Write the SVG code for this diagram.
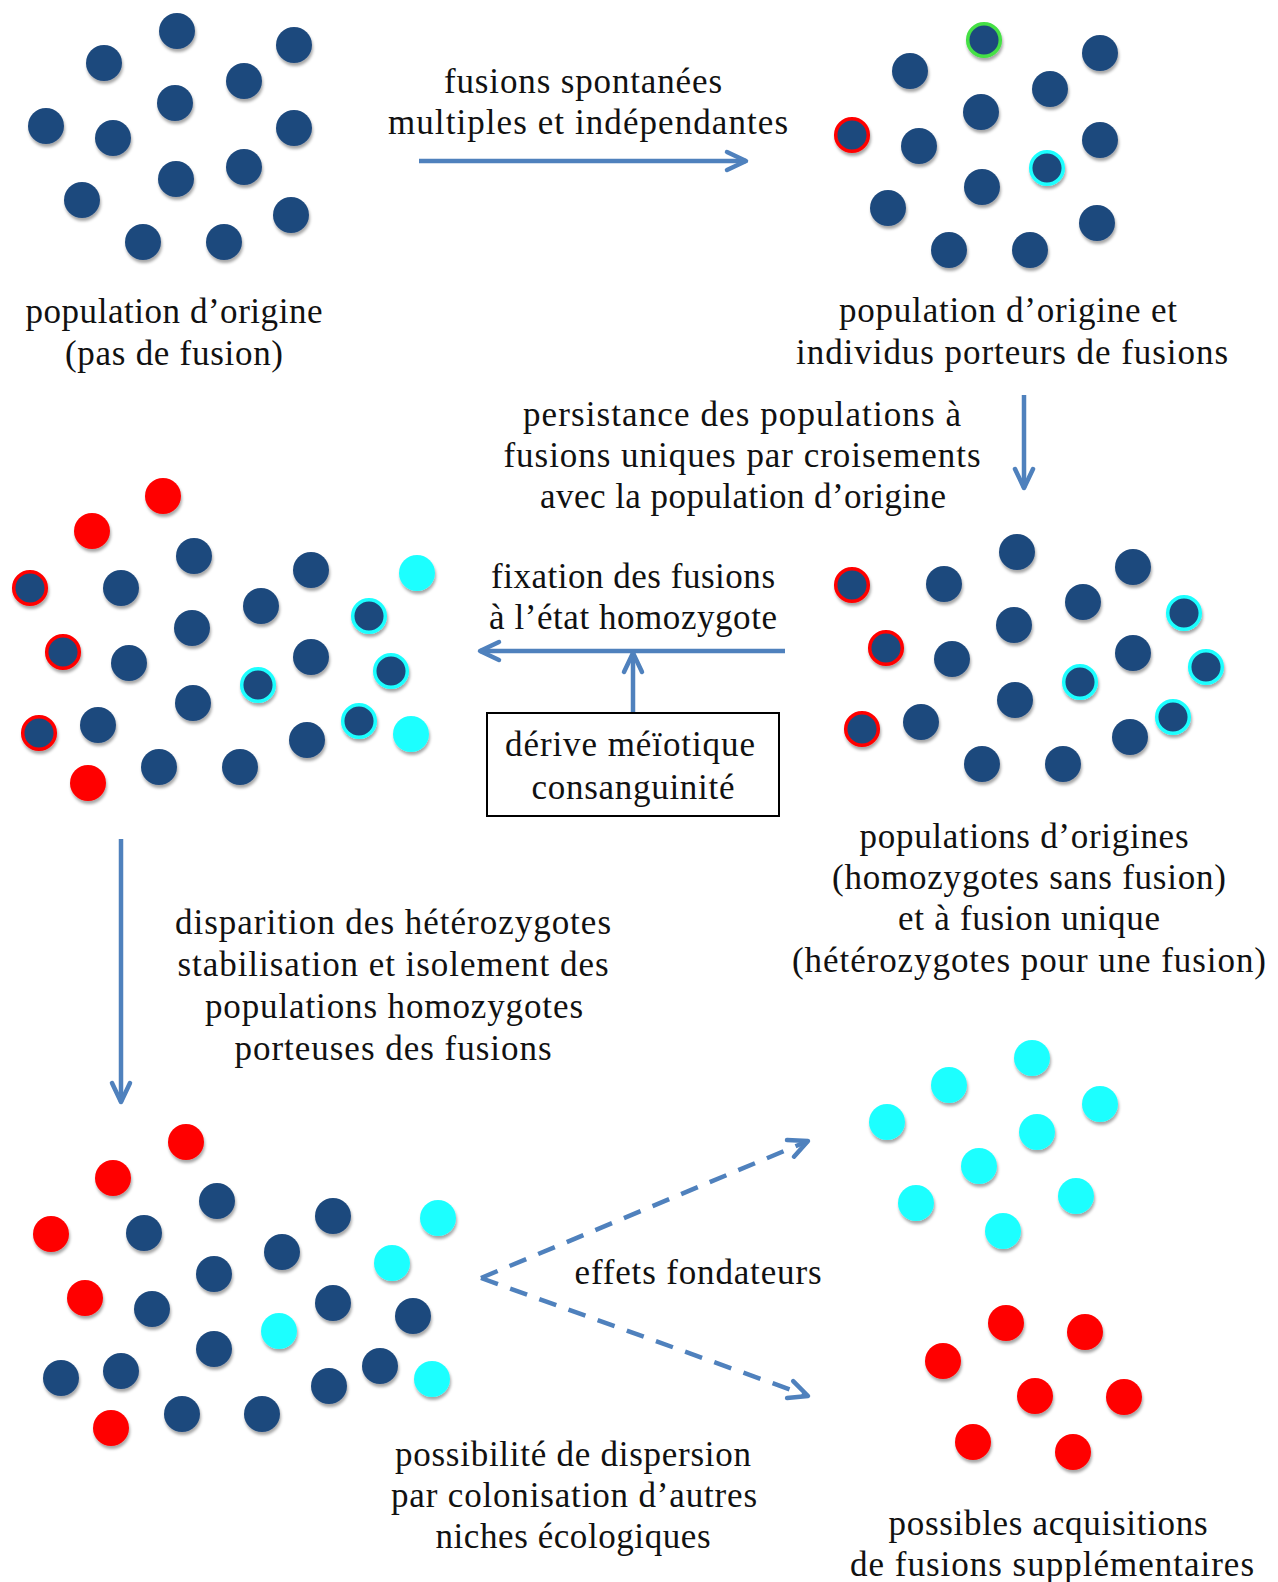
<svg xmlns="http://www.w3.org/2000/svg" width="1278" height="1582" viewBox="0 0 1278 1582">
<defs>
<filter id="sh" x="-30%" y="-30%" width="160%" height="170%">
<feDropShadow dx="1" dy="3" stdDeviation="1.6" flood-color="#000" flood-opacity="0.35"/>
</filter>
<marker id="ah" markerUnits="userSpaceOnUse" markerWidth="26" markerHeight="24" viewBox="0 0 26 24" refX="23" refY="12" orient="auto">
<path d="M4,3 L23,12 L4,21" fill="none" stroke="#4f81bd" stroke-width="4.5" stroke-linecap="round" stroke-linejoin="round"/>
</marker>
</defs>
<style>
text{font-family:"Liberation Serif","Times New Roman",serif;font-size:35px;fill:#111;text-anchor:middle}
circle{filter:url(#sh)}
.d{fill:#1f497d}
.r{fill:#ff0000}
.c{fill:#1fffff}
.ro{fill:#1f497d;stroke:#ff0000;stroke-width:3.5}
.co{fill:#1f497d;stroke:#1fffff;stroke-width:3.5}
.go{fill:#1f497d;stroke:#44e044;stroke-width:3.5}
.ln{fill:none;stroke:#4f81bd;stroke-width:4.5;marker-end:url(#ah)}
.dash{stroke-dasharray:18 13}
</style>
<rect width="1278" height="1582" fill="#fff"/>

<g id="connectors">
<line class="ln" x1="419" y1="161" x2="746" y2="161"/>
<line class="ln" x1="1024" y1="395" x2="1024" y2="488"/>
<line class="ln" x1="785" y1="651" x2="480" y2="651"/>
<line class="ln" x1="633" y1="713" x2="633" y2="653"/>
<line class="ln" x1="121" y1="839" x2="121" y2="1102"/>
<line class="ln dash" x1="481" y1="1278" x2="808" y2="1141"/>
<line class="ln dash" x1="481" y1="1278" x2="808" y2="1396"/>
</g>

<g id="pop-origine">
<circle class="d" cx="177" cy="31" r="18"/>
<circle class="d" cx="104" cy="63" r="18"/>
<circle class="d" cx="294" cy="45" r="18"/>
<circle class="d" cx="244" cy="81" r="18"/>
<circle class="d" cx="175" cy="103" r="18"/>
<circle class="d" cx="46" cy="126" r="18"/>
<circle class="d" cx="113" cy="138" r="18"/>
<circle class="d" cx="294" cy="128" r="18"/>
<circle class="d" cx="176" cy="179" r="18"/>
<circle class="d" cx="244" cy="167" r="18"/>
<circle class="d" cx="82" cy="200" r="18"/>
<circle class="d" cx="291" cy="215" r="18"/>
<circle class="d" cx="143" cy="242" r="18"/>
<circle class="d" cx="224" cy="242" r="18"/>
<text x="174" y="323" textLength="297">population d’origine</text>
<text x="174" y="365" textLength="218">(pas de fusion)</text>
</g>

<g id="label-fusions">
<text x="583" y="93" textLength="278">fusions spontanées</text>
<text x="588" y="134" textLength="400">multiples et indépendantes</text>
</g>

<g id="pop-porteurs">
<circle class="go" cx="984" cy="40" r="16.3"/>
<circle class="d" cx="910" cy="71" r="18"/>
<circle class="d" cx="1100" cy="53" r="18"/>
<circle class="d" cx="1050" cy="89" r="18"/>
<circle class="d" cx="981" cy="112" r="18"/>
<circle class="ro" cx="852" cy="135" r="16.3"/>
<circle class="d" cx="919" cy="146" r="18"/>
<circle class="d" cx="1100" cy="140" r="18"/>
<circle class="co" cx="1047" cy="168" r="16.3"/>
<circle class="d" cx="982" cy="187" r="18"/>
<circle class="d" cx="888" cy="208" r="18"/>
<circle class="d" cx="1097" cy="223" r="18"/>
<circle class="d" cx="949" cy="250" r="18"/>
<circle class="d" cx="1030" cy="250" r="18"/>
<text x="1008" y="322" textLength="338">population d’origine et</text>
<text x="1012" y="364" textLength="432">individus porteurs de fusions</text>
</g>

<g id="label-persistance">
<text x="742" y="426" textLength="438">persistance des populations à</text>
<text x="742" y="467" textLength="477">fusions uniques par croisements</text>
<text x="743" y="508" textLength="406">avec la population d’origine</text>
</g>

<g id="pop-fixees">
<circle class="r" cx="163" cy="496" r="18"/>
<circle class="r" cx="92" cy="531" r="18"/>
<circle class="d" cx="194" cy="556" r="18"/>
<circle class="ro" cx="30" cy="588" r="16.3"/>
<circle class="d" cx="121" cy="588" r="18"/>
<circle class="d" cx="311" cy="570" r="18"/>
<circle class="c" cx="417" cy="573" r="18"/>
<circle class="d" cx="261" cy="606" r="18"/>
<circle class="co" cx="369" cy="616" r="16.3"/>
<circle class="d" cx="192" cy="628" r="18"/>
<circle class="ro" cx="63" cy="652" r="16.3"/>
<circle class="d" cx="129" cy="663" r="18"/>
<circle class="d" cx="311" cy="657" r="18"/>
<circle class="co" cx="391" cy="671" r="16.3"/>
<circle class="co" cx="258" cy="685" r="16.3"/>
<circle class="d" cx="193" cy="703" r="18"/>
<circle class="ro" cx="39" cy="733" r="16.3"/>
<circle class="d" cx="98" cy="725" r="18"/>
<circle class="co" cx="359" cy="721" r="16.3"/>
<circle class="c" cx="411" cy="734" r="18"/>
<circle class="d" cx="307" cy="740" r="18"/>
<circle class="r" cx="88" cy="783" r="18"/>
<circle class="d" cx="159" cy="767" r="18"/>
<circle class="d" cx="240" cy="767" r="18"/>
</g>

<g id="label-fixation">
<text x="633" y="588" textLength="284">fixation des fusions</text>
<text x="633" y="629" textLength="288">à l’état homozygote</text>
</g>

<g id="box-derive">
<rect x="487" y="713" width="292" height="103" fill="#fff" stroke="#000" stroke-width="2"/>
<text x="630" y="756" textLength="250">dérive méïotique</text>
<text x="633" y="799" textLength="203">consanguinité</text>
</g>

<g id="pop-heterozygotes">
<circle class="ro" cx="852" cy="585" r="16.3"/>
<circle class="d" cx="944" cy="584" r="18"/>
<circle class="d" cx="1017" cy="552" r="18"/>
<circle class="d" cx="1133" cy="567" r="18"/>
<circle class="d" cx="1083" cy="602" r="18"/>
<circle class="co" cx="1184" cy="613" r="16.3"/>
<circle class="d" cx="1014" cy="625" r="18"/>
<circle class="ro" cx="886" cy="648" r="16.3"/>
<circle class="d" cx="952" cy="659" r="18"/>
<circle class="d" cx="1133" cy="653" r="18"/>
<circle class="co" cx="1206" cy="667" r="16.3"/>
<circle class="co" cx="1080" cy="682" r="16.3"/>
<circle class="d" cx="1015" cy="700" r="18"/>
<circle class="ro" cx="862" cy="729" r="16.3"/>
<circle class="d" cx="921" cy="722" r="18"/>
<circle class="co" cx="1173" cy="717" r="16.3"/>
<circle class="d" cx="1130" cy="737" r="18"/>
<circle class="d" cx="982" cy="764" r="18"/>
<circle class="d" cx="1063" cy="764" r="18"/>
<text x="1024" y="848" textLength="329">populations d’origines</text>
<text x="1029" y="889" textLength="394">(homozygotes sans fusion)</text>
<text x="1029" y="930" textLength="262">et à fusion unique</text>
<text x="1029" y="972" textLength="474">(hétérozygotes pour une fusion)</text>
</g>

<g id="label-disparition">
<text x="393" y="934" textLength="436">disparition des hétérozygotes</text>
<text x="393" y="976" textLength="431">stabilisation et isolement des</text>
<text x="394" y="1018" textLength="378">populations homozygotes</text>
<text x="393" y="1060" textLength="317">porteuses des fusions</text>
</g>

<g id="pop-stabilisees">
<circle class="r" cx="186" cy="1142" r="18"/>
<circle class="r" cx="113" cy="1178" r="18"/>
<circle class="d" cx="217" cy="1201" r="18"/>
<circle class="r" cx="51" cy="1234" r="18"/>
<circle class="d" cx="144" cy="1233" r="18"/>
<circle class="d" cx="333" cy="1216" r="18"/>
<circle class="c" cx="438" cy="1218" r="18"/>
<circle class="d" cx="282" cy="1252" r="18"/>
<circle class="c" cx="392" cy="1263" r="18"/>
<circle class="d" cx="214" cy="1274" r="18"/>
<circle class="r" cx="85" cy="1298" r="18"/>
<circle class="d" cx="152" cy="1309" r="18"/>
<circle class="d" cx="333" cy="1303" r="18"/>
<circle class="d" cx="413" cy="1316" r="18"/>
<circle class="c" cx="279" cy="1331" r="18"/>
<circle class="d" cx="214" cy="1349" r="18"/>
<circle class="d" cx="61" cy="1378" r="18"/>
<circle class="d" cx="121" cy="1371" r="18"/>
<circle class="d" cx="380" cy="1366" r="18"/>
<circle class="c" cx="432" cy="1379" r="18"/>
<circle class="d" cx="329" cy="1386" r="18"/>
<circle class="r" cx="111" cy="1428" r="18"/>
<circle class="d" cx="182" cy="1414" r="18"/>
<circle class="d" cx="262" cy="1414" r="18"/>
</g>

<g id="label-effets">
<text x="698" y="1284" textLength="247">effets fondateurs</text>
</g>

<g id="label-dispersion">
<text x="573" y="1466" textLength="356">possibilité de dispersion</text>
<text x="574" y="1507" textLength="366">par colonisation d’autres</text>
<text x="573" y="1548" textLength="275">niches écologiques</text>
</g>

<g id="pop-cyan">
<circle class="c" cx="1032" cy="1058" r="18"/>
<circle class="c" cx="949" cy="1085" r="18"/>
<circle class="c" cx="887" cy="1122" r="18"/>
<circle class="c" cx="1100" cy="1104" r="18"/>
<circle class="c" cx="1037" cy="1132" r="18"/>
<circle class="c" cx="979" cy="1166" r="18"/>
<circle class="c" cx="916" cy="1203" r="18"/>
<circle class="c" cx="1076" cy="1196" r="18"/>
<circle class="c" cx="1003" cy="1231" r="18"/>
</g>

<g id="pop-rouge">
<circle class="r" cx="1006" cy="1323" r="18"/>
<circle class="r" cx="1085" cy="1332" r="18"/>
<circle class="r" cx="943" cy="1361" r="18"/>
<circle class="r" cx="1035" cy="1396" r="18"/>
<circle class="r" cx="1124" cy="1397" r="18"/>
<circle class="r" cx="973" cy="1442" r="18"/>
<circle class="r" cx="1073" cy="1452" r="18"/>
</g>

<g id="label-acquisitions">
<text x="1048" y="1535" textLength="319">possibles acquisitions</text>
<text x="1052" y="1576" textLength="404">de fusions supplémentaires</text>
</g>
</svg>
